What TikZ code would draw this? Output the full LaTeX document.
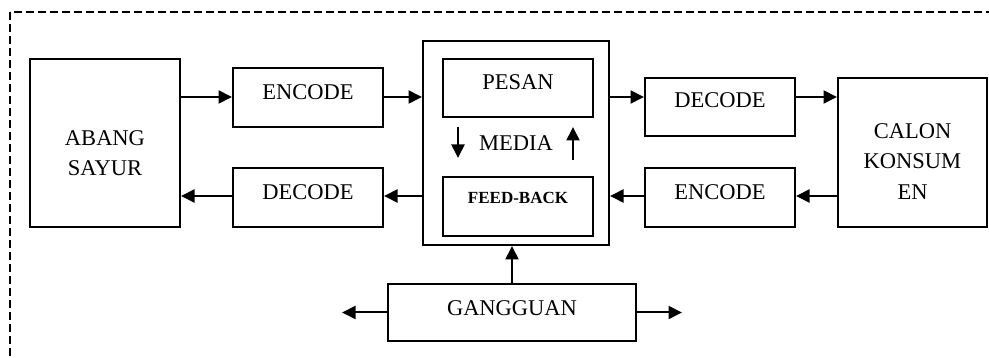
\documentclass[tikz,border=0pt]{standalone}
\usepackage{fontspec}
\setmainfont{Liberation Serif}
\usetikzlibrary{arrows.meta}
\begin{document}
\begin{tikzpicture}[x=1pt,y=-1pt,
  box/.style={draw,line width=2pt,inner sep=0pt},
  lbl/.style={anchor=base,inner sep=0pt,font=\fontsize{22.5}{26}\selectfont},
  fb/.style={anchor=base,inner sep=0pt,font=\fontsize{17}{20}\selectfont\bfseries},
  arr/.style={line width=2pt,-{Triangle[length=13.5pt,width=13pt]}}]
\useasboundingbox (0,0) rectangle (989,358);
\clip (0,0) rectangle (989,358);
\draw[line width=1.2pt,dash pattern=on 8pt off 4pt] (10,12) rectangle (1010,380);
% boxes
\node[box] (abang) at (105,143) [minimum width=150pt,minimum height=168pt] {};
\node[box] (enc1) at (308,97.5) [minimum width=150pt,minimum height=59pt] {};
\node[box] (dec1) at (308,197.5) [minimum width=150pt,minimum height=59pt] {};
\node[box] (media) at (516,143) [minimum width=186pt,minimum height=204pt] {};
\node[box] (pesan) at (518,88) [minimum width=150pt,minimum height=58pt] {};
\node[box] (feed) at (518,206.5) [minimum width=150pt,minimum height=59pt] {};
\node[box] (dec2) at (720,107) [minimum width=150pt,minimum height=58pt] {};
\node[box] (enc2) at (720,197.5) [minimum width=150pt,minimum height=59pt] {};
\node[box] (calon) at (912.5,152.5) [minimum width=149pt,minimum height=149pt] {};
\node[box] (gang) at (512,312.5) [minimum width=248pt,minimum height=57pt] {};
% texts
\node[lbl] (tabang) at (105,145.5) {ABANG};
\node[lbl] (tsayur) at (105,175.5) {SAYUR};
\node[lbl] (tenc1) at (308,99.5) {ENCODE};
\node[lbl] (tdec1) at (308,199.5) {DECODE};
\node[lbl] (tpesan) at (518,89.5) {PESAN};
\node[lbl] (tmedia) at (516,150.5) {MEDIA};
\node[fb] (tfeed) at (518,203.6) {FEED-BACK};
\node[lbl] (tdec2) at (720,107.5) {DECODE};
\node[lbl] (tenc2) at (720,199.5) {ENCODE};
\node[lbl] (tcalon) at (912.5,138.5) {CALON};
\node[lbl] (tkonsum) at (912.5,168.5) {KONSUM};
\node[lbl] (ten) at (912.5,199.5) {EN};
\node[lbl] (tgang) at (512,315.5) {GANGGUAN};
% helper coordinates
\coordinate (r1) at (0,97);
\coordinate (r2) at (0,196);
\coordinate (gl) at (342,312.5);
\coordinate (gr) at (682,312.5);
\coordinate (d1) at (458,127);
\coordinate (d2) at (458,158);
\coordinate (u1) at (573,160);
\coordinate (u2) at (573,127);
% arrows
\draw[arr] (abang.east |- r1) -- (enc1.west |- r1);
\draw[arr] (enc1.east |- r1) -- (media.west |- r1);
\draw[arr] (media.east |- r1) -- (dec2.west |- r1);
\draw[arr] (dec2.east |- r1) -- (calon.west |- r1);
\draw[arr] (calon.west |- r2) -- (enc2.east |- r2);
\draw[arr] (enc2.west |- r2) -- (media.east |- r2);
\draw[arr] (media.west |- r2) -- (dec1.east |- r2);
\draw[arr] (dec1.west |- r2) -- (abang.east |- r2);
\draw[arr] (gang.north) -- (gang.north |- media.south);
\draw[arr] (gang.west) -- (gl);
\draw[arr] (gang.east) -- (gr);
\draw[arr] (d1) -- (d2);
\draw[arr] (u1) -- (u2);
\end{tikzpicture}
\end{document}
